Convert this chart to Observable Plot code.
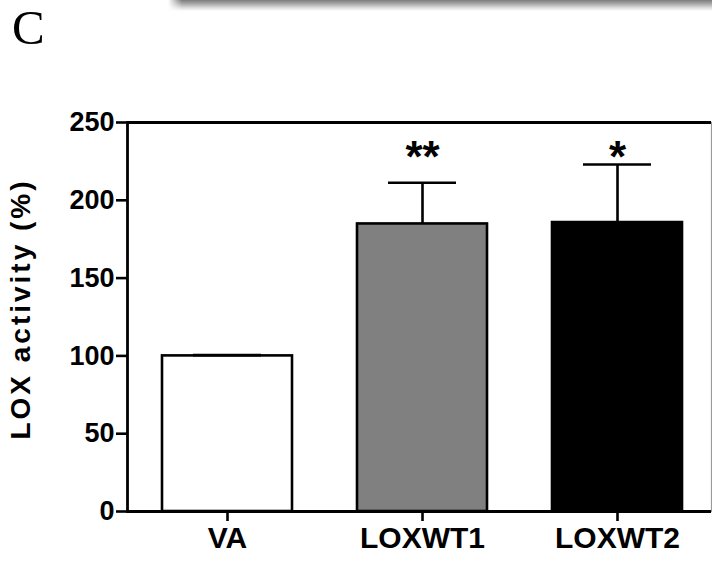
<!DOCTYPE html>
<html>
<head>
<meta charset="utf-8">
<script src="https://cdn.jsdelivr.net/npm/d3@7"></script>
<script src="https://cdn.jsdelivr.net/npm/@observablehq/plot@0.6"></script>
<style>
  html, body { margin: 0; padding: 0; background: #fff; }
  #wrap { position: relative; width: 712px; height: 562px; overflow: hidden; background: #fff; }
  #shadow { position: absolute; top: 0; left: 168px; width: 560px; height: 11px;
    background: linear-gradient(to bottom, #7d7d7d 0%, #a9a9a9 35%, #dcdcdc 70%, #ffffff 100%);
    -webkit-mask-image: linear-gradient(to right, transparent 0px, #000 14px);
    mask-image: linear-gradient(to right, transparent 0px, #000 14px); }
  #panel { position: absolute; left: 12px; top: 0px; font-family: "Liberation Serif", "DejaVu Serif", serif;
    font-size: 49px; line-height: 55px; color: #000; }
  #chart { position: absolute; left: 0; top: 0; }
</style>
</head>
<body>
<div id="wrap">
  <div id="chart"></div>
  <div id="shadow"></div>
  <div id="panel">C</div>
</div>
<script>
const categories = ["VA", "LOXWT1", "LOXWT2"];
const values = [100, 184.8, 185.7];
const errors = [0.5, 26.5, 37.3];
const significance = ["", "**", "*"];
const yTicks = [0, 50, 100, 150, 200, 250];
const yLabel = "LOX activity (%)";

const data = categories.map((c, i) => ({group: c, value: values[i], err: errors[i], top: values[i] + errors[i], sig: significance[i]}));

const font = "'Liberation Sans', Arial, Helvetica, sans-serif";

const chart = Plot.plot({
  width: 712,
  height: 562,
  marginTop: 122,
  marginBottom: 51,
  marginLeft: 127,
  marginRight: 1,
  style: {fontFamily: font, background: "transparent", overflow: "visible"},
  x: {domain: categories, range: [127, 716], paddingInner: 0.335, paddingOuter: 0.174, axis: null},
  y: {domain: [0, 250], axis: null},
  color: {domain: categories, range: ["#ffffff", "#808080", "#000000"]},
  marks: [
    Plot.frame({stroke: "#9a9a9a", strokeWidth: 1.2}),
    Plot.barY(data, {x: "group", y: "value", fill: "group", stroke: "#000", strokeWidth: 2.6}),
    Plot.ruleX(data, {x: "group", y1: "value", y2: "top", stroke: "#000", strokeWidth: 2.6}),
    Plot.tickY(data, {x: "group", y: "top", insetLeft: 31, insetRight: 31, stroke: "#000", strokeWidth: 2.6}),
    Plot.text(data, {x: "group", text: "sig", frameAnchor: "top", dy: 18, fontSize: 44, fontWeight: "bold", fill: "#000"}),
    Plot.ruleY([0, 250], {stroke: "#000", strokeWidth: 2.8}),
    Plot.frame({anchor: "left", stroke: "#000", strokeWidth: 2.8}),
    Plot.axisY({ticks: yTicks, tickSize: 11, tickPadding: 2, fontSize: 27, fontWeight: "bold", label: null, strokeWidth: 2.6, fill: "#000", stroke: "#000"}),
    Plot.axisX({tickSize: 10, tickPadding: 5, fontSize: 30, fontWeight: "bold", label: null, strokeWidth: 2.6, fill: "#000", stroke: "#000"}),
    Plot.text([yLabel], {frameAnchor: "left", textAnchor: "middle", lineAnchor: "middle", rotate: -90, dx: -106, dy: -8, fontSize: 28, fontWeight: "bold", fill: "#000"})
  ]
});
d3.select(chart).selectAll("text").filter(function() { return this.textContent === yLabel; })
  .attr("letter-spacing", "3px");
document.getElementById("chart").appendChild(chart);
</script>
</body>
</html>
